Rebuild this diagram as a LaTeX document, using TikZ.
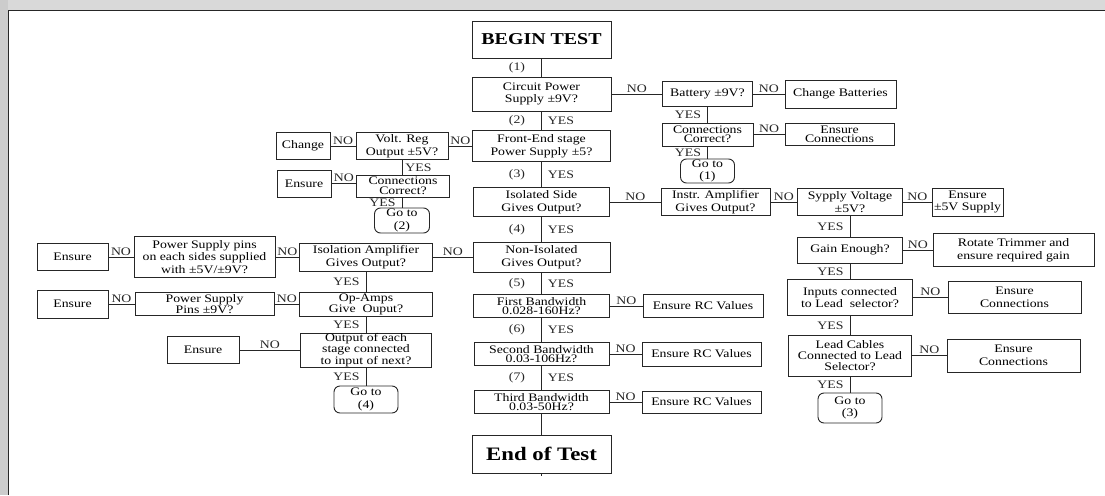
\documentclass[tikz,border=0pt]{standalone}
\usepackage{fontspec}
\setmainfont{Liberation Serif}[FakeStretch=1.2]
\usepackage{tikz}

\newcommand{\boxfont}{\fontsize{11.5}{12.5}\selectfont}
\newcommand{\tightfont}{\fontsize{11.5}{9.5}\selectfont}

\begin{document}
\begin{tikzpicture}[x=1pt, y=-1pt,
  box/.style={draw=black!85, line width=0.9pt, align=center, inner sep=0pt, font=\boxfont},
  tight/.style={font=\tightfont},
  goto/.style={box, rounded corners=6pt},
  lbl/.style={font=\boxfont, inner sep=1pt},
  link/.style={line width=0.9pt, black!85}]
\useasboundingbox (0,0) rectangle (1105,495);
% Window frame
\fill[gray!30] (0,0) rectangle (1105,10);
\fill[gray!40] (0,0) rectangle (8,495);
\draw[line width=1.5pt, black!85] (8.5,495) -- (8.5,10.5) -- (1105,10.5);
% Main column
\node[box, minimum width=139pt, minimum height=37pt, font=\bfseries\fontsize{16.6}{18}\selectfont] (begin) at (541.5,39.5) {BEGIN TEST};
\node[box, minimum width=139pt, minimum height=34pt] (circuit) at (541.5,94) {Circuit Power\\Supply ±9V?};
\node[box, minimum width=138pt, minimum height=31pt] (frontend) at (541.5,146) {Front-End stage\\Power Supply ±5?};
\node[box, minimum width=136pt, minimum height=29pt] (isolated) at (541.5,202) {Isolated Side\\Gives Output?};
\node[box, minimum width=137pt, minimum height=30pt] (nonisol) at (541.5,257) {Non-Isolated\\Gives Output?};
\node[box, tight, minimum width=136pt, minimum height=23pt] (bw1) at (541.5,306) {First Bandwidth\\0.028-160Hz?};
\node[box, tight, minimum width=135pt, minimum height=23pt] (bw2) at (541.5,354) {Second Bandwidth\\0.03-106Hz?};
\node[box, tight, minimum width=135pt, minimum height=23pt] (bw3) at (541.5,402) {Third Bandwidth\\0.03-50Hz?};
\node[box, minimum width=139pt, minimum height=38pt, font=\bfseries\fontsize{19}{21}\selectfont] (endtest) at (541.5,454) {End of Test};
\coordinate (tail) at (541.5,476);
% Battery branch
\node[box, minimum width=90pt, minimum height=25pt] (battery) at (707.5,94) {Battery ±9V?};
\node[box, minimum width=111pt, minimum height=28pt] (changebat) at (840.5,94) {Change Batteries};
\node[box, tight, minimum width=91pt, minimum height=23pt] (conn1) at (707.5,134.5) {Connections\\Correct?};
\node[box, tight, minimum width=109pt, minimum height=22pt] (ensconn1) at (839.5,134.5) {Ensure\\Connections};
\node[goto, minimum width=54pt, minimum height=24pt] (goto1) at (707.5,171) {Go to\\(1)};
% Front-end branch
\node[box, minimum width=92pt, minimum height=27pt] (voltreg) at (402,146) {Volt. Reg\\Output ±5V?};
\node[box, minimum width=54pt, minimum height=27pt] (change) at (303,146) {Change};
\node[box, tight, minimum width=93pt, minimum height=22pt] (conn2) at (403,186) {Connections\\Correct?};
\node[box, minimum width=54pt, minimum height=27pt] (ensure2) at (304,183.5) {Ensure};
\node[goto, minimum width=55pt, minimum height=25pt] (goto2) at (402,220.5) {Go to\\(2)};
% Isolated side branch
\node[box, minimum width=109pt, minimum height=27pt] (instr) at (715.5,202) {Instr. Amplifier\\Gives Output?};
\node[box, minimum width=105pt, minimum height=27pt] (supply) at (850,202) {Sypply Voltage\\±5V?};
\node[box, minimum width=71pt, minimum height=28pt] (ens5v) at (967.5,202) {Ensure\\±5V Supply};
\node[box, minimum width=105pt, minimum height=26pt] (gain) at (850,250) {Gain Enough?};
\node[box, minimum width=161pt, minimum height=33pt] (rotate) at (1013.5,250) {Rotate Trimmer and\\ensure required gain};
\node[box, minimum width=125pt, minimum height=36pt] (inputs) at (850,297.5) {Inputs connected\\to Lead\ \ selector?};
\node[box, minimum width=133pt, minimum height=32pt] (ensconn2) at (1014.5,297.5) {Ensure\\Connections};
\node[box, font=\fontsize{11.5}{11}\selectfont, minimum width=123pt, minimum height=41pt] (lead) at (850,355.5) {Lead Cables\\Connected to Lead\\Selector?};
\node[box, minimum width=133pt, minimum height=33pt] (ensconn3) at (1013.5,355.5) {Ensure\\Connections};
\node[goto, minimum width=64pt, minimum height=30pt] (goto3) at (850,408) {Go to\\(3)};
% Non-isolated branch
\node[box, minimum width=133pt, minimum height=28pt] (isoamp) at (366,257) {Isolation Amplifier\\Gives Output?};
\node[box, minimum width=141pt, minimum height=41pt] (pspins) at (204.5,257) {Power Supply pins\\on each sides supplied\\with ±5V/±9V?};
\node[box, minimum width=71pt, minimum height=27pt] (ensure3) at (72.5,257) {Ensure};
\node[box, tight, minimum width=133pt, minimum height=24pt] (opamps) at (366,304) {Op-Amps\\Give\ \ Ouput?};
\node[box, tight, minimum width=139pt, minimum height=23pt] (ps9) at (204.5,304) {Power Supply\\Pins ±9V?};
\node[box, minimum width=71pt, minimum height=28pt] (ensure4) at (72.5,304) {Ensure};
\node[box, tight, minimum width=131pt, minimum height=34pt] (output) at (366,350) {Output of each\\stage connected\\to input of next?};
\node[box, minimum width=72pt, minimum height=27pt] (ensure5) at (203,350) {Ensure};
\node[goto, minimum width=64pt, minimum height=27pt] (goto4) at (366,399.5) {Go to\\(4)};
% Bandwidth checks
\node[box, minimum width=120pt, minimum height=23pt] (rc1) at (703,306) {Ensure RC Values};
\node[box, minimum width=119pt, minimum height=24pt] (rc2) at (701.5,354) {Ensure RC Values};
\node[box, minimum width=119pt, minimum height=22pt] (rc3) at (701.5,402) {Ensure RC Values};
% Connectors
\draw[link] (begin) -- node[lbl, left=15pt] {(1)} (circuit);
\foreach \a/\b/\n in {circuit/frontend/2, frontend/isolated/3, isolated/nonisol/4,
                      nonisol/bw1/5, bw1/bw2/6, bw2/bw3/7}
  \draw[link] (\a) -- node[lbl, left=15pt] {(\n)} node[lbl, right=5pt] {YES} (\b);
\draw[link] (bw3) -- (endtest) -- (tail);
\foreach \a/\b in {circuit/battery, battery/changebat, conn1/ensconn1, frontend/voltreg,
                   voltreg/change, isolated/instr, instr/supply, supply/ens5v, gain/rotate,
                   inputs/ensconn2, lead/ensconn3, nonisol/isoamp, isoamp/pspins,
                   pspins/ensure3, opamps/ps9, ps9/ensure4, output/ensure5,
                   bw1/rc1, bw2/rc2, bw3/rc3}
  \draw[link] (\a) -- node[lbl, above] {NO} (\b);
\draw[link] (ensure2.east) -- node[lbl, above] {NO} (ensure2.east -| conn2.west);
\foreach \a/\b in {battery/conn1, conn1/goto1, isoamp/opamps, opamps/output,
                   output/goto4, supply/gain, gain/inputs, inputs/lead, lead/goto3}
  \draw[link] (\a) -- node[lbl, left=5pt] {YES} (\b);
\draw[link] (conn2.south -| goto2) -- node[lbl, left=5pt] {YES} (goto2);
\draw[link] (voltreg) -- node[lbl, right=2pt] {YES} (voltreg |- conn2.north);
\end{tikzpicture}
\end{document}
